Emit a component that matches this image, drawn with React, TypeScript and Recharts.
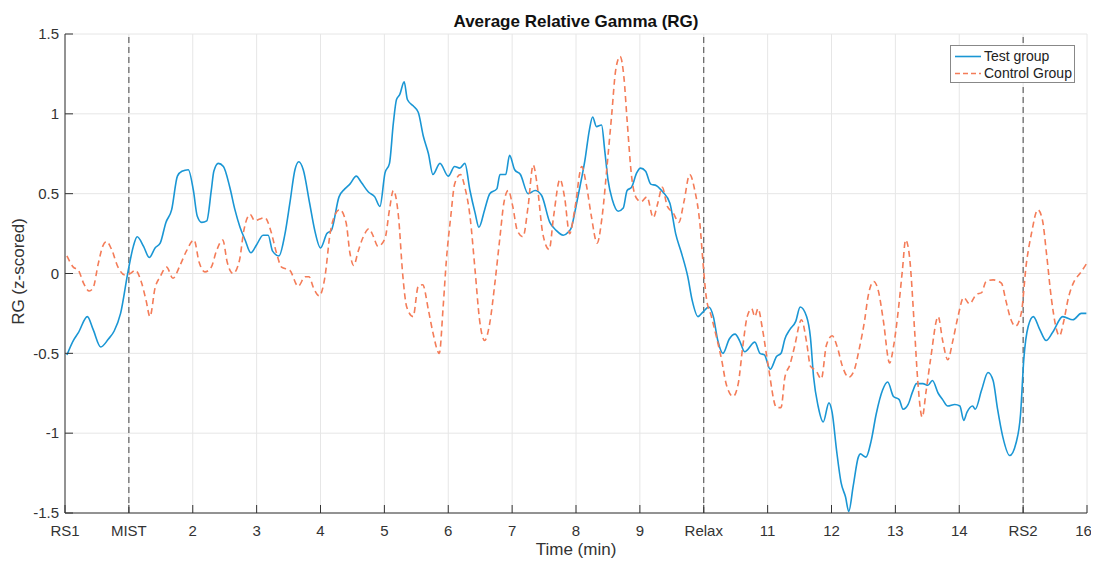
import React from 'react';
import {
  LineChart,
  Line,
  XAxis,
  YAxis,
  CartesianGrid,
  ReferenceLine,
  Label,
} from 'recharts';

const xTicks = [0, 1, 2, 3, 4, 5, 6, 7, 8, 9, 10, 11, 12, 13, 14, 15, 16];
const xTickLabels = ['RS1', 'MIST', '2', '3', '4', '5', '6', '7', '8', '9', 'Relax', '11', '12', '13', '14', 'RS2', '16'];
const yTicks = [-1.5, -1, -0.5, 0, 0.5, 1, 1.5];
const phaseMarks = [1, 10, 15];

// Test group, time (min) and RG values
const testTime = [
  0.03, 0.13, 0.21, 0.35, 0.44, 0.56, 0.68, 0.77, 0.87, 0.99, 1.07, 1.13, 1.23, 1.32, 1.41, 1.49,
  1.58, 1.67, 1.76, 1.83, 1.93, 2.01, 2.07, 2.14, 2.22, 2.29, 2.33, 2.4, 2.48, 2.58, 2.66, 2.74,
  2.82, 2.91, 3.0, 3.1, 3.18, 3.25, 3.35, 3.44, 3.52, 3.6, 3.66, 3.73, 3.83, 3.91, 4.0, 4.1,
  4.17, 4.29, 4.38, 4.46, 4.56, 4.64, 4.75, 4.85, 4.93, 5.01, 5.08, 5.14, 5.19, 5.24, 5.31, 5.36,
  5.45, 5.53, 5.61, 5.69, 5.76, 5.87, 6.0, 6.1, 6.18, 6.26, 6.34, 6.42, 6.48, 6.57, 6.65, 6.76,
  6.81, 6.9, 6.96, 7.04, 7.13, 7.25, 7.36, 7.46, 7.59, 7.69, 7.8, 7.88, 7.93, 7.99, 8.06, 8.14,
  8.21, 8.26, 8.32, 8.4, 8.45, 8.5, 8.57, 8.66, 8.74, 8.8, 8.87, 8.95, 9.01, 9.09, 9.17, 9.26,
  9.36, 9.47, 9.56, 9.65, 9.75, 9.82, 9.91, 9.99, 10.08, 10.15, 10.22, 10.3, 10.4, 10.49, 10.56, 10.64,
  10.8, 10.88, 10.95, 11.04, 11.14, 11.21, 11.27, 11.35, 11.44, 11.51, 11.61, 11.67, 11.72, 11.79, 11.87, 11.96,
  12.01, 12.08, 12.15, 12.22, 12.27, 12.34, 12.42, 12.45, 12.54, 12.62, 12.7, 12.8, 12.88, 12.97, 13.06, 13.12,
  13.2, 13.27, 13.33, 13.43, 13.51, 13.58, 13.67, 13.74, 13.82, 13.93, 14.01, 14.07, 14.12, 14.21, 14.25, 14.35,
  14.45, 14.53, 14.6, 14.68, 14.79, 14.89, 14.96, 15.01, 15.08, 15.16, 15.26, 15.36, 15.46, 15.62, 15.78, 15.91,
  15.99,
];
const testRG = [
  -0.51, -0.42, -0.37, -0.27, -0.35, -0.46, -0.41, -0.36, -0.25, 0.02, 0.17, 0.23, 0.17, 0.1, 0.16, 0.19,
  0.32, 0.4, 0.61, 0.64, 0.65, 0.52, 0.36, 0.32, 0.33, 0.52, 0.64, 0.69, 0.67, 0.54, 0.4, 0.29,
  0.21, 0.13, 0.18, 0.24, 0.24, 0.14, 0.11, 0.24, 0.44, 0.65, 0.7, 0.65, 0.44, 0.27, 0.16, 0.25,
  0.27, 0.48, 0.53, 0.56, 0.61, 0.57, 0.51, 0.48, 0.42, 0.63, 0.69, 0.94, 1.09, 1.12, 1.2, 1.09,
  1.05, 1.01, 0.86, 0.75, 0.62, 0.69, 0.61, 0.67, 0.66, 0.69, 0.52, 0.38, 0.29, 0.4, 0.5, 0.53,
  0.62, 0.62, 0.74, 0.65, 0.62, 0.5, 0.52, 0.49, 0.32, 0.27, 0.24, 0.26, 0.29, 0.4, 0.54, 0.71,
  0.9, 0.98, 0.92, 0.93, 0.77, 0.59, 0.46, 0.39, 0.41, 0.52, 0.54, 0.63, 0.66, 0.64, 0.56, 0.55,
  0.51, 0.44, 0.25, 0.13, -0.02, -0.17, -0.27, -0.24, -0.21, -0.27, -0.42, -0.5, -0.41, -0.38, -0.42, -0.49,
  -0.43, -0.5, -0.51, -0.6, -0.52, -0.5, -0.41, -0.35, -0.3, -0.21, -0.27, -0.4, -0.65, -0.83, -0.93, -0.81,
  -0.87, -1.11, -1.31, -1.4, -1.49, -1.33, -1.15, -1.13, -1.15, -1.05, -0.88, -0.73, -0.68, -0.77, -0.79, -0.85,
  -0.82, -0.74, -0.69, -0.69, -0.7, -0.67, -0.75, -0.79, -0.83, -0.82, -0.83, -0.92, -0.87, -0.83, -0.85, -0.73,
  -0.62, -0.67, -0.85, -1.02, -1.14, -1.06, -0.88, -0.54, -0.33, -0.27, -0.35, -0.42, -0.37, -0.27, -0.29, -0.25,
  -0.25,
];

// Control group
const controlTime = [
  0.03, 0.13, 0.21, 0.29, 0.38, 0.44, 0.52, 0.59, 0.65, 0.73, 0.83, 0.94, 1.02, 1.1, 1.2, 1.27,
  1.33, 1.41, 1.49, 1.59, 1.69, 1.8, 1.9, 2.02, 2.1, 2.19, 2.29, 2.37, 2.47, 2.54, 2.63, 2.73,
  2.8, 2.9, 2.97, 3.04, 3.13, 3.22, 3.31, 3.39, 3.52, 3.65, 3.76, 3.82, 3.89, 3.98, 4.07, 4.15,
  4.23, 4.3, 4.4, 4.46, 4.52, 4.59, 4.67, 4.76, 4.83, 4.9, 5.01, 5.08, 5.14, 5.22, 5.29, 5.35,
  5.45, 5.53, 5.6, 5.69, 5.76, 5.86, 5.92, 5.97, 6.04, 6.1, 6.19, 6.26, 6.34, 6.42, 6.49, 6.57,
  6.65, 6.73, 6.81, 6.87, 6.94, 7.01, 7.08, 7.17, 7.25, 7.33, 7.39, 7.48, 7.58, 7.65, 7.75, 7.82,
  7.9, 7.98, 8.09, 8.16, 8.24, 8.33, 8.41, 8.49, 8.56, 8.62, 8.69, 8.75, 8.8, 8.87, 8.95, 9.02,
  9.11, 9.21, 9.28, 9.35, 9.43, 9.52, 9.61, 9.69, 9.78, 9.86, 9.94, 9.99, 10.04, 10.12, 10.2, 10.28,
  10.35, 10.46, 10.54, 10.61, 10.68, 10.75, 10.8, 10.85, 10.92, 11.01, 11.14, 11.21, 11.27, 11.35, 11.42, 11.53,
  11.61, 11.67, 11.76, 11.84, 11.92, 12.01, 12.09, 12.17, 12.27, 12.36, 12.43, 12.52, 12.57, 12.66, 12.74, 12.81,
  12.91, 12.97, 13.04, 13.11, 13.16, 13.22, 13.3, 13.35, 13.42, 13.48, 13.55, 13.67, 13.74, 13.82, 13.9, 13.98,
  14.07, 14.16, 14.27, 14.35, 14.42, 14.53, 14.66, 14.73, 14.81, 14.88, 14.97, 15.05, 15.13, 15.23, 15.3, 15.37,
  15.44, 15.57, 15.63, 15.71, 15.81, 15.89, 15.99,
];
const controlRG = [
  0.11, 0.04, 0.02, -0.06, -0.11, -0.09, 0.06, 0.17, 0.2, 0.15, 0.04, -0.01, 0.0, 0.02, -0.06, -0.17,
  -0.27, -0.09, -0.02, 0.04, -0.03, 0.05, 0.14, 0.21, 0.07, 0.01, 0.04, 0.14, 0.21, 0.07, 0.0, 0.08,
  0.27, 0.37, 0.33, 0.34, 0.35, 0.27, 0.13, 0.04, 0.02, -0.08, -0.02, -0.02, -0.09, -0.14, -0.02, 0.25,
  0.37, 0.4, 0.32, 0.13, 0.05, 0.14, 0.23, 0.28, 0.23, 0.17, 0.22, 0.4, 0.52, 0.36, -0.02, -0.21,
  -0.27, -0.08, -0.07, -0.23, -0.37, -0.5, -0.21, 0.08, 0.36, 0.56, 0.62, 0.54, 0.36, 0.02, -0.29, -0.42,
  -0.31, -0.06, 0.23, 0.44, 0.52, 0.42, 0.27, 0.23, 0.42, 0.68, 0.56, 0.25, 0.15, 0.36, 0.59, 0.48,
  0.25, 0.4, 0.67, 0.56, 0.36, 0.19, 0.36, 0.69, 1.0, 1.27, 1.36, 1.23, 0.96, 0.61, 0.47, 0.45,
  0.48, 0.35, 0.44, 0.54, 0.42, 0.38, 0.32, 0.45, 0.62, 0.52, 0.31, 0.06, -0.15, -0.27, -0.4, -0.54,
  -0.69, -0.77, -0.69, -0.46, -0.27, -0.22, -0.27, -0.22, -0.35, -0.58, -0.84, -0.84, -0.65, -0.57, -0.46, -0.29,
  -0.43, -0.58, -0.61, -0.66, -0.45, -0.39, -0.46, -0.58, -0.65, -0.6, -0.48, -0.29, -0.15, -0.05, -0.12, -0.29,
  -0.56, -0.46, -0.25, 0.02, 0.21, 0.11, -0.35, -0.67, -0.9, -0.74, -0.54, -0.27, -0.42, -0.54, -0.42, -0.27,
  -0.15, -0.19, -0.13, -0.12, -0.05, -0.04, -0.06, -0.17, -0.29, -0.33, -0.25, 0.06, 0.25, 0.4, 0.34, 0.11,
  -0.15, -0.39, -0.31, -0.15, -0.04, 0.0, 0.06,
];

const testData = testTime.map((t, i) => ({ t, v: testRG[i] }));
const controlData = controlTime.map((t, i) => ({ t, v: controlRG[i] }));

const FONT = '"Liberation Sans", Arial, Helvetica, sans-serif';
const INK = '#333333';
const BLUE = '#1a96d4';
const ORANGE = '#f47c58';

export default function App() {
  return (
    <div style={{ position: 'relative', width: 1083, height: 555, fontFamily: FONT }}>
      <LineChart
        width={1083}
        height={555}
        margin={{ top: 26, right: 4, bottom: 8, left: 0 }}
        style={{ fontFamily: FONT }}
      >
        <CartesianGrid stroke="#e6e6e6" />
        <XAxis
          dataKey="t"
          type="number"
          domain={[0, 16]}
          ticks={xTicks}
          allowDataOverflow
          height={42}
          tickSize={-8}
          tickMargin={20}
          tickFormatter={(v: number) => xTickLabels[xTicks.indexOf(v)] ?? String(v)}
          tick={{ fill: INK, fontSize: 15 }}
          stroke={INK}
        >
          <Label
            content={({ viewBox }: any) => (
              <text
                x={viewBox.x + viewBox.width / 2}
                y={viewBox.y + 36}
                textAnchor="middle"
                dy="0.35em"
                fill={INK}
                fontSize={17}
              >
                Time (min)
              </text>
            )}
          />
        </XAxis>
        <XAxis
          xAxisId="top"
          orientation="top"
          type="number"
          domain={[0, 16]}
          ticks={xTicks}
          height={0}
          tickSize={-8}
          tick={false}
          stroke={INK}
        />
        <YAxis
          type="number"
          domain={[-1.5, 1.5]}
          ticks={yTicks}
          allowDataOverflow
          width={57}
          tickSize={-8}
          tickMargin={14}
          tick={{ fill: INK, fontSize: 15 }}
          stroke={INK}
        >
          <Label
            content={({ viewBox }: any) => {
              const cx = 10;
              const cy = viewBox.y + viewBox.height / 2 - 2;
              return (
                <text
                  x={cx}
                  y={cy}
                  textAnchor="middle"
                  dy="0.35em"
                  fill={INK}
                  fontSize={17}
                  transform={`rotate(-90, ${cx}, ${cy})`}
                >
                  RG (z-scored)
                </text>
              );
            }}
          />
        </YAxis>
        <YAxis
          yAxisId="right"
          orientation="right"
          type="number"
          domain={[-1.5, 1.5]}
          ticks={yTicks}
          width={0}
          tickSize={-8}
          tick={false}
          stroke={INK}
        />
        {phaseMarks.map((x) => (
          <ReferenceLine key={x} x={x} stroke="#444" strokeDasharray="6 4" strokeWidth={1} />
        ))}
        <Line
          data={testData}
          dataKey="v"
          type="monotone"
          stroke={BLUE}
          strokeWidth={1.6}
          dot={false}
          isAnimationActive={false}
        />
        <Line
          data={controlData}
          dataKey="v"
          type="monotone"
          stroke={ORANGE}
          strokeWidth={1.6}
          strokeDasharray="6 4"
          dot={false}
          isAnimationActive={false}
        />
      </LineChart>
      <div
        style={{
          position: 'absolute',
          left: 57,
          width: 1022,
          top: 4,
          textAlign: 'center',
          fontSize: 17,
          fontWeight: 'bold',
          color: '#111',
          lineHeight: '20px',
        }}
      >
        Average Relative Gamma (RG)
      </div>
      <div
        style={{
          position: 'absolute',
          left: 942,
          top: 37,
          width: 125,
          height: 38,
          background: '#fff',
          border: '1px solid #888',
          fontSize: 14,
          color: '#222',
          boxSizing: 'border-box',
          padding: '2px 0 0 3px',
          lineHeight: '17px',
        }}
      >
        {[
          { name: 'Test group', color: BLUE, dash: undefined },
          { name: 'Control Group', color: ORANGE, dash: '5 3' },
        ].map((s) => (
          <div key={s.name} style={{ display: 'flex', alignItems: 'center', whiteSpace: 'nowrap' }}>
            <svg width={28} height={17} style={{ flex: 'none' }}>
              <line x1={1} y1={8.5} x2={27} y2={8.5} stroke={s.color} strokeWidth={1.6} strokeDasharray={s.dash} />
            </svg>
            <span style={{ marginLeft: 2 }}>{s.name}</span>
          </div>
        ))}
      </div>
    </div>
  );
}
